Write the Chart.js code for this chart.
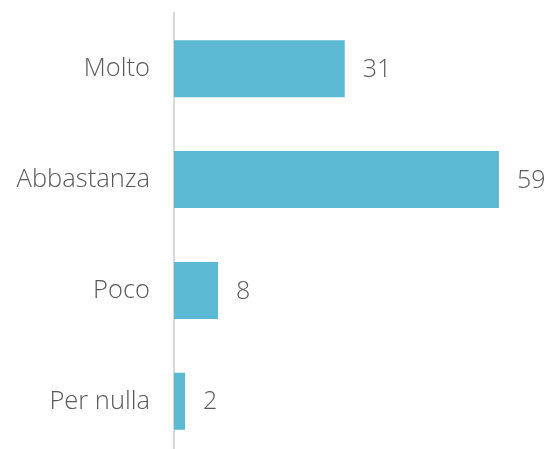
<!DOCTYPE html>
<html>
<head>
<meta charset="utf-8">
<script src="https://cdn.jsdelivr.net/npm/chart.js@4"></script>
<style>
  html, body { margin: 0; padding: 0; overflow: hidden; background: #fff; }
  #wrap { width: 554px; height: 449px; overflow: hidden; }
  #myChart { display: block; margin-top: -26px; }
</style>
</head>
<body>
<div id="wrap"><canvas id="myChart" width="554" height="522"></canvas></div>
<script>
const categories = ['Molto', 'Abbastanza', 'Poco', 'Per nulla'];
const values = [31, 59, 8, 2];

const fontFamily = '"Open Sans", sans-serif';
const textColor = '#595959';

// draws the value just after the end of each bar
const valueLabels = {
  id: 'valueLabels',
  afterDatasetsDraw(chart) {
    const ctx = chart.ctx;
    const meta = chart.getDatasetMeta(0);
    ctx.save();
    ctx.font = '300 25px ' + fontFamily;
    ctx.fillStyle = textColor;
    ctx.textAlign = 'left';
    ctx.textBaseline = 'middle';
    meta.data.forEach((bar, i) => {
      ctx.fillText(String(values[i]), bar.x + 18, bar.y + 1);
    });
    ctx.restore();
  }
};

const ctx = document.getElementById('myChart');
new Chart(ctx, {
  type: 'bar',
  data: {
    labels: categories,
    datasets: [{
      data: values,
      backgroundColor: '#5BB9D3',
      borderWidth: 0,
      categoryPercentage: 1,
      barPercentage: 0.515
    }]
  },
  options: {
    indexAxis: 'y',
    responsive: false,
    animation: false,
    layout: { padding: 0 },
    plugins: { legend: { display: false }, tooltip: { enabled: false } },
    scales: {
      x: { display: false, min: 0, max: 69 },
      y: {
        grid: { display: false, drawTicks: false },
        border: { color: '#D9D9D9', width: 2 },
        ticks: {
          color: textColor,
          padding: 24,
          font: { family: fontFamily, size: 25.5, weight: 300 }
        },
        afterFit(scale) { scale.width = 174; }
      }
    }
  },
  plugins: [valueLabels]
});
</script>
</body>
</html>
